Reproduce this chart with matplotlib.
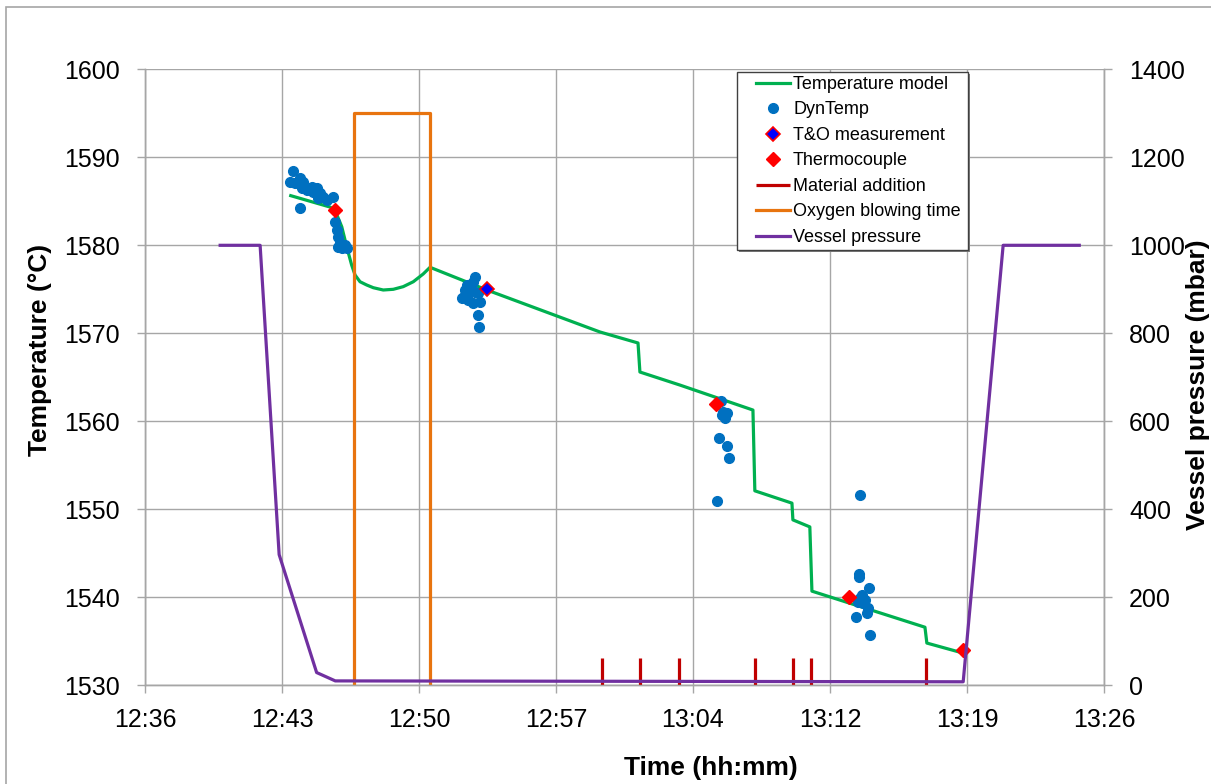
import numpy as np
import matplotlib
matplotlib.use("Agg")
import matplotlib.pyplot as plt
from matplotlib.ticker import FuncFormatter, FixedLocator
from matplotlib.patches import Rectangle

plt.rcParams['font.family'] = ['Liberation Sans', 'DejaVu Sans']

# time is in minutes after midnight (756 = 12:36)

# Temperature model (°C)
model_t = [763.66, 765.72, 765.98, 766.34, 766.60, 766.86, 767.04, 767.30, 767.65, 768.00,
           768.52, 769.05, 769.57, 770.10, 770.62, 770.98, 773.97, 779.91, 781.91, 782.01,
           784.11, 787.95, 788.05, 790.00, 790.05, 790.94, 791.05, 796.99, 797.09, 798.93]
model_T = [1585.64, 1584.35, 1584.01, 1582.11, 1579.84, 1577.76, 1576.62, 1575.86, 1575.49, 1575.18,
           1574.92, 1575.00, 1575.30, 1575.86, 1576.74, 1577.50, 1574.92, 1570.15, 1568.90, 1565.60,
           1564.12, 1561.28, 1552.10, 1550.70, 1548.80, 1548.00, 1540.70, 1536.60, 1534.80, 1533.70]

# DynTemp readings
dyn_t = [763.79, 763.62, 763.88, 764.15, 764.32, 764.23, 764.50, 764.76, 764.84, 765.02,
         765.20, 765.11, 765.37, 765.55, 765.89, 764.15, 765.98, 766.07, 766.16, 766.25,
         766.16, 766.33, 766.51, 766.60,
         773.34, 773.25, 772.90, 772.82, 773.08, 773.34, 773.51, 772.64, 772.99, 773.25,
         773.60, 772.82, 773.51, 773.57,
         786.25, 786.39, 786.57, 786.48, 786.30, 786.18, 786.60, 786.69, 786.04,
         793.59, 793.52, 793.54, 794.05, 793.69, 793.48, 793.74, 794.01, 793.92, 793.35,
         794.10, 793.84, 793.57]
dyn_T = [1588.48, 1587.23, 1587.05, 1587.61, 1587.23, 1586.48, 1586.28, 1586.66, 1586.09, 1586.48,
         1585.91, 1585.34, 1585.52, 1585.15, 1585.52, 1584.20, 1582.68, 1581.74, 1580.98, 1580.23,
         1579.84, 1579.66, 1580.03, 1579.66,
         1576.43, 1575.86, 1575.49, 1574.92, 1574.92, 1574.73, 1574.55, 1573.98, 1573.78, 1573.41,
         1573.59, 1574.35, 1572.08, 1570.75,
         1562.34, 1561.09, 1560.91, 1560.34, 1560.72, 1558.07, 1557.19, 1555.86, 1550.98,
         1551.66, 1542.65, 1542.27, 1541.09, 1540.26, 1539.50, 1539.32, 1538.75, 1538.18, 1537.80,
         1535.68, 1539.69, 1539.89]

# T&O measurement
to_t = [774.0]
to_T = [1575.0]

# Thermocouple
tc_t = [766.0, 786.0, 793.0, 799.0]
tc_T = [1584.0, 1562.0, 1540.0, 1534.0]

# Material additions (marker height on pressure axis)
add_t = [780.0, 782.0, 784.05, 788.05, 790.05, 791.0, 797.05]
add_h = 62

# Oxygen blowing (pressure axis)
o2_t = [767.0, 767.0, 771.0, 771.0]
o2_p = [0, 1300, 1300, 0]

# Vessel pressure (mbar)
ves_t = [759.95, 762.05, 763.05, 765.02, 766.0, 799.0, 801.1, 805.1]
ves_p = [1000, 1000, 297, 29, 10, 8, 1000, 1000]

xticks = [756 + 7.2 * k for k in range(8)]

grid_c = '#A6A6A6'
W, H = 1211, 784

fig = plt.figure(figsize=(12.11, 7.84), dpi=100)
ax = fig.add_axes([145 / W, 1 - 685.3 / H, (1104 - 145) / W, (685.3 - 69.3) / H])
ax2 = ax.twinx()

# outer chart border
fig.patches.append(Rectangle((5.5 / W, -0.1), 1.2, 1 - 7.5 / H + 0.1, transform=fig.transFigure,
                             fill=False, edgecolor='#A6A6A6', linewidth=1.2, clip_on=False))

ax.set_xlim(756, 806.4)
ax.set_ylim(1530, 1600)
ax2.set_ylim(0, 1400)
ax.xaxis.set_major_locator(FixedLocator(xticks))
ax.xaxis.set_major_formatter(FuncFormatter(lambda v, p: '%d:%02d' % (int(v // 60), int(v % 60 + 1e-6))))
ax.set_yticks(np.arange(1530, 1601, 10))
ax2.set_yticks(np.arange(0, 1401, 200))

ax.grid(True, color=grid_c, linewidth=1.0)
ax.set_axisbelow(True)
for a in (ax, ax2):
    for s in a.spines.values():
        s.set_color(grid_c)
        s.set_linewidth(1.0)
    a.spines['top'].set_visible(False)
    a.tick_params(colors=grid_c, labelcolor='black', labelsize=18, length=6, width=1.0)
ax.tick_params(axis='y', pad=12)
ax.tick_params(axis='x', pad=10)
ax2.tick_params(axis='y', pad=12)

h1, = ax.plot(model_t, model_T, color='#00B050', lw=2.3, label='Temperature model')
h2, = ax.plot(dyn_t, dyn_T, 'o', color='#0070C0', ms=7, mec='#0070C0', label='DynTemp')
h3, = ax.plot(to_t, to_T, 'D', color='#0000FF', mec='#FF0000', mew=1.2, ms=7, label='T&O measurement')
h4, = ax.plot(tc_t, tc_T, 'D', color='#FF0000', mec='#FF0000', ms=7, label='Thermocouple')

h5 = ax2.vlines(add_t, 0, add_h, color='#C00000', lw=2.3, label='Material addition')
h6, = ax2.plot(o2_t, o2_p, color='#E8740F', lw=2.3, label='Oxygen blowing time')
h7, = ax2.plot(ves_t, ves_p, color='#7030A0', lw=2.3, label='Vessel pressure')

ax.set_ylabel('Temperature (°C)', fontsize=19, fontweight='bold')
ax.yaxis.set_label_coords((52 - 145) / 959, (685.3 - 350) / 616)
ax2.set_ylabel('Vessel pressure (mbar)', fontsize=19, fontweight='bold')
ax2.yaxis.set_label_coords((1186 - 145) / 959, (685.3 - 385) / 616)
ax.set_xlabel('Time (hh:mm)', fontsize=19, fontweight='bold')
ax.xaxis.set_label_coords((711 - 145) / 959, (685.3 - 756) / 616)

# legend frame with a small shadow, drawn by hand
lx0, ly0, lx1, ly1 = 737, 72, 968, 250
fig.patches.append(Rectangle(((lx0 + 2) / W, 1 - (ly1 + 2) / H), (lx1 - lx0) / W, (ly1 - ly0) / H,
                             transform=fig.transFigure, facecolor='#7F7F7F', edgecolor='none', zorder=1))
fig.patches.append(Rectangle((lx0 / W, 1 - ly1 / H), (lx1 - lx0) / W, (ly1 - ly0) / H,
                             transform=fig.transFigure, facecolor='white', edgecolor='#404040',
                             linewidth=1.0, zorder=1.1))

leg = fig.legend(handles=[h1, h2, h3, h4, h5, h6, h7], loc='upper left',
                 bbox_to_anchor=(756 / W, 1 - 76 / H), fontsize=13,
                 handlelength=1.9, handletextpad=0.15, labelspacing=0.47,
                 borderpad=0, borderaxespad=0, frameon=False)

fig.savefig('out.png', dpi=100)
